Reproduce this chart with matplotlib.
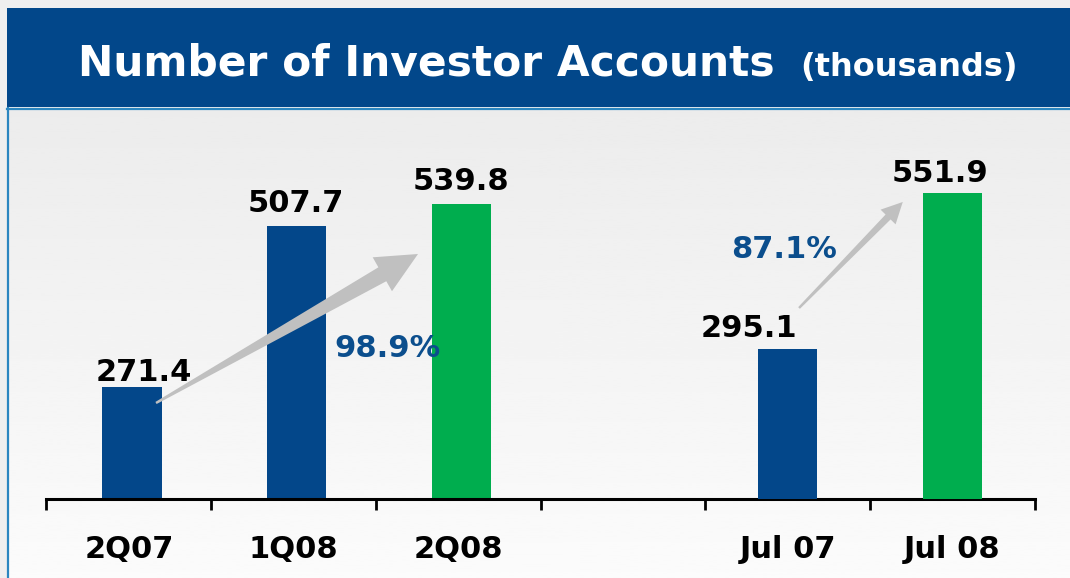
import numpy as np
import matplotlib.pyplot as plt
from matplotlib.patches import Rectangle, Polygon

# data
categories = ['2Q07', '1Q08', '2Q08', '', 'Jul 07', 'Jul 08']
quarter_values = [271.4, 507.7, 539.8]   # 2Q07, 1Q08, 2Q08
month_values = [295.1, 551.9]            # Jul 07, Jul 08
quarter_growth = '98.9%'
month_growth = '87.1%'

BLUE = '#03478a'
GREEN = '#00ad4e'
TITLE_BLUE = '#02478a'
PCT_BLUE = '#0b4e8d'
ARROW = '#c0c0c0'

plt.rcParams['font.family'] = ['DejaVu Sans']


def wedge_arrow(axis, tail, tip, head_len, head_w, shaft_w):
    # tapered arrow: pointed tail widening to the head, sizes in pixels
    t = axis.transData
    p0 = t.transform(tail)
    p1 = t.transform(tip)
    u = (p1 - p0) / np.hypot(*(p1 - p0))
    n = np.array([-u[1], u[0]])
    base = p1 - u * head_len
    pts = [p0 + n * 1.2, base + n * shaft_w / 2, base + n * head_w / 2, p1,
           base - n * head_w / 2, base - n * shaft_w / 2, p0 - n * 1.2]
    axis.add_patch(Polygon(t.inverted().transform(pts), closed=True,
                           fc=ARROW, ec='none', zorder=3))


W, H = 1070, 578
fig = plt.figure(figsize=(W / 100, H / 100), dpi=100)
fig.patch.set_facecolor('#efefef')

# background: title bar + gradient panel (pixel coords)
bg = fig.add_axes([0, 0, 1, 1])
grad = np.linspace(0.925, 0.985, 200).reshape(-1, 1)
bg.imshow(grad, cmap='gray', vmin=0, vmax=1, extent=(8, W, H, 109), aspect='auto')
bg.add_patch(Rectangle((7, 8), W - 7, 99, color=TITLE_BLUE, lw=0))
bg.plot([7, W], [108.5, 108.5], color='#2b86c0', lw=1.6)
bg.plot([7.5, 7.5], [108, H], color='#2b86c0', lw=1.6)
bg.set_xlim(0, W)
bg.set_ylim(H, 0)
bg.axis('off')

bg.text(78, 76, 'Number of Investor Accounts', fontsize=30.5, weight='bold',
        color='white', va='baseline')
bg.text(800, 76, '(thousands)', fontsize=23, weight='bold', color='white', va='baseline')

# chart
ax = fig.add_axes([46.5 / W, (H - 499) / H, 988 / W, 389 / H])
ax.patch.set_alpha(0)
x = np.arange(len(categories))
ax.bar(x[:3] + 0.02, quarter_values, width=0.36, color=[BLUE, BLUE, GREEN])
ax.set_ylim(107, 677)

ax2 = ax.twinx()
ax2.bar(x[4:], month_values, width=0.36, color=[BLUE, GREEN])
ax2.set_ylim(48.2, 688.5)

ax.set_xlim(-0.5, 5.5)
ax.set_xticks(x)
ax.set_xticklabels(categories, fontsize=22, weight='bold')
ax.set_xticks(np.arange(-0.5, 6), minor=True)
ax.tick_params(axis='x', which='major', length=0, pad=26)
ax.tick_params(axis='x', which='minor', length=8, width=2, direction='out', color='black')
ax.set_yticks([])
ax2.set_yticks([])
for s in ['top', 'left', 'right']:
    ax.spines[s].set_visible(False)
for s in ax2.spines.values():
    s.set_visible(False)
ax.spines['bottom'].set_linewidth(2.2)

# value labels
q_off = [(15, 6), (2.5, 14), (3, 14)]
for i, v in enumerate(quarter_values):
    ax.annotate(f'{v:.1f}', xy=(x[i], v), xytext=q_off[i], textcoords='offset pixels',
                ha='center', va='baseline', fontsize=22, weight='bold')
m_off = [(-38.5, 12), (-12, 11)]
for i, v in enumerate(month_values):
    ax2.annotate(f'{v:.1f}', xy=(x[4 + i], v), xytext=m_off[i], textcoords='offset pixels',
                 ha='center', va='baseline', fontsize=22, weight='bold')

# growth arrows
wedge_arrow(ax, (0.165, 247.7), (1.756, 466), head_len=41, head_w=39, shaft_w=16)
wedge_arrow(ax2, (4.07, 362.6), (4.70, 537.1), head_len=21, head_w=21, shaft_w=7)
ax.text(1.568, 315, quarter_growth, ha='center', va='baseline', fontsize=22,
        weight='bold', color=PCT_BLUE, zorder=4)
ax2.text(3.98, 444.9, month_growth, ha='center', va='baseline', fontsize=22,
         weight='bold', color=PCT_BLUE)

fig.savefig('out.png', dpi=100, facecolor=fig.get_facecolor())
